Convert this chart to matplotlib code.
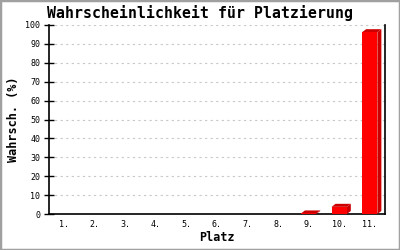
import matplotlib.pyplot as plt
from matplotlib.patches import Polygon, Rectangle

# data
plaetze = ['1.', '2.', '3.', '4.', '5.', '6.', '7.', '8.', '9.', '10.', '11.']
wahrsch = [0, 0, 0, 0, 0, 0, 0, 0, 0.3, 3.8, 96.2]
yticks = list(range(0, 101, 10))

front = '#ff0000'
shade = '#cc0000'
mono = 'DejaVu Sans Mono'

fig = plt.figure(figsize=(4, 2.5), dpi=100)
fig.patch.set_facecolor('white')
fig.patches.append(Rectangle((0, 0), 1, 1, transform=fig.transFigure,
                             fill=False, edgecolor='#a0a0a0', linewidth=2.5))

ax = fig.add_axes([0.1225, 0.144, 0.84, 0.756])
ax.set_xlim(-0.5, len(plaetze) - 0.5)
ax.set_ylim(0, 100)

# 3d depth in data units (about 4px right, 3px up)
dx = 4 / (400 * 0.84) * len(plaetze)
dy = 3 / (250 * 0.756) * 100
w = 0.5

for i, v in enumerate(wahrsch):
    if v <= 0:
        continue
    x0, x1 = i - w / 2, i + w / 2
    ax.add_patch(Polygon([(x1, 0), (x1 + dx, dy), (x1 + dx, v + dy), (x1, v)],
                         closed=True, facecolor=shade, edgecolor='none', zorder=3))
    ax.add_patch(Polygon([(x0, v), (x1, v), (x1 + dx, v + dy), (x0 + dx, v + dy)],
                         closed=True, facecolor=shade, edgecolor='none', zorder=3))
    ax.add_patch(Rectangle((x0, 0), w, v, facecolor=front, edgecolor='none', zorder=4))

ax.set_xticks(range(len(plaetze)))
ax.set_xticklabels(plaetze, fontfamily=mono, fontsize=6)
ax.set_yticks(yticks)
ax.set_yticklabels([str(t) for t in yticks], fontfamily=mono, fontsize=6)
ax.tick_params(axis='x', length=0, pad=4)
ax.tick_params(axis='y', direction='inout', length=6.5, width=1, pad=3)

ax.grid(axis='y', color='#c8c8c8', linestyle=(0, (2, 3)), linewidth=0.8)
ax.set_axisbelow(True)
ax.spines['top'].set_visible(False)
for s in ['left', 'bottom', 'right']:
    ax.spines[s].set_linewidth(1.2)

ax.set_title('Wahrscheinlichkeit für Platzierung', fontfamily=mono,
             fontweight='bold', fontsize=10.7, loc='left', x=-0.005, pad=5)
ax.set_xlabel('Platz', fontfamily=mono, fontweight='bold', fontsize=8.5, labelpad=2)
ax.set_ylabel('Wahrsch. (%)', fontfamily=mono, fontweight='bold', fontsize=8.5, labelpad=4)

fig.savefig('out.png', dpi=100)
